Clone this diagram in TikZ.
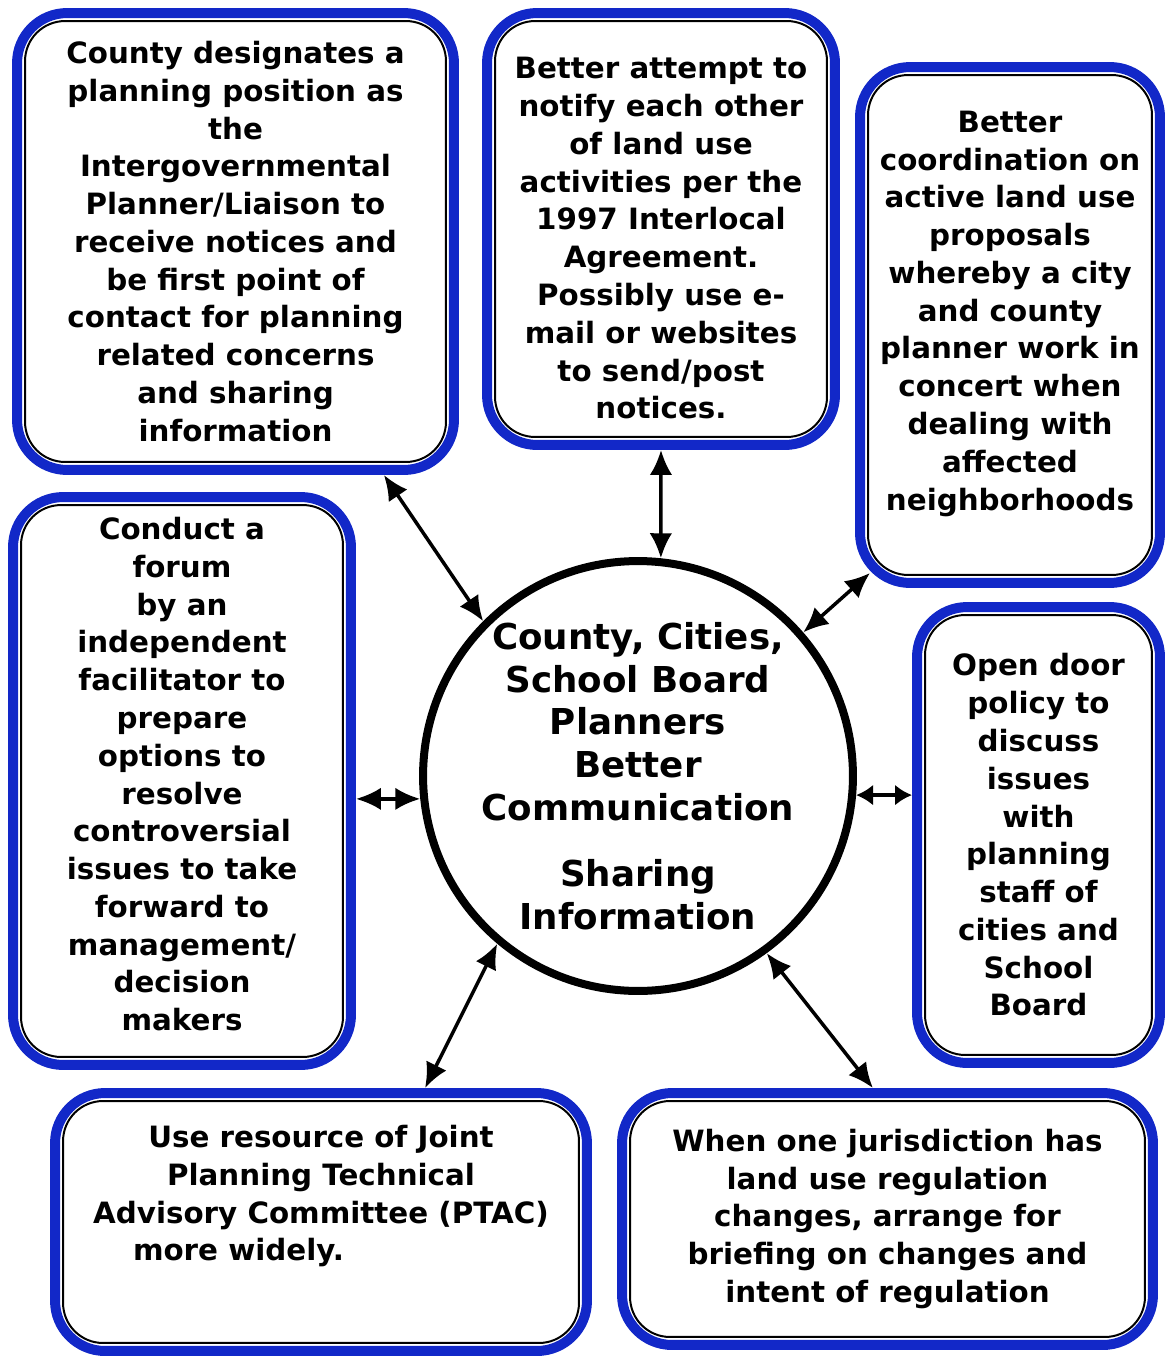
\documentclass[tikz,border=0pt]{standalone}
\usepackage{fontspec}
\setmainfont{DejaVu Sans}
\usetikzlibrary{positioning,fit,calc,arrows.meta}
\definecolor{frameblue}{RGB}{18,40,200}
\tikzstyle{idea_box} = [draw=black,
						line width=0.04cm,
						rounded corners=0.8cm,
						align=center,
						inner sep=0pt,
						font=\bfseries\fontsize{16.7}{21.5}\selectfont]
\tikzstyle{blue_frame} = [draw=frameblue,
						  line width=0.2cm,
						  rounded corners=1cm,
						  inner sep=0.14cm]
\tikzstyle{hub} = [circle,
				   draw=black,
				   line width=0.16cm,
				   minimum size=8.6cm,
				   inner sep=-5mm,
				   align=center,
				   font=\bfseries\fontsize{20.3}{24.4}\selectfont]
\tikzstyle{link} = [line width=0.07cm,
					{Latex[length=0.5cm,width=0.45cm]}-{Latex[length=0.5cm,width=0.45cm]}]
\tikzstyle{short_link} = [line width=0.07cm,
						  {Latex[length=0.34cm,width=0.42cm]}-{Latex[length=0.34cm,width=0.42cm]}]

\begin{document}
\begin{tikzpicture}[x=0.02cm, y=-0.02cm]
    \useasboundingbox (0,0) rectangle (1167,1359);

    % centre
    \node[hub] (c) at (638,776) {County, Cities,\\ School Board\\ Planners\\ Better\\ Communication\\[0.46cm] Sharing\\ Information};

    %%%%%%%%%%%%
    % TOP ROW  %
    %%%%%%%%%%%%
    \node[idea_box, minimum width=8.42cm, minimum height=8.82cm] (b1) at (235.5,241.5) {County designates a\\ planning position as\\ the\\ Intergovernmental\\ Planner/Liaison to\\ receive notices and\\ be first point of\\ contact for planning\\ related concerns\\ and sharing\\ information};
    \node[idea_box, minimum width=6.64cm, minimum height=8.32cm] (b2) at (661,229) {\rule{0pt}{0.8cm}Better attempt to\\ notify each other\\ of land use\\ activities per the\\ 1997 Interlocal\\ Agreement.\\ Possibly use e-\\ mail or websites\\ to send/post\\ notices.};
    \node[idea_box, minimum width=5.68cm, minimum height=10cm] (b3) at (1010,325) {Better\\ coordination on\\ active land use\\ proposals\\ whereby a city\\ and county\\ planner work in\\ concert when\\ dealing with\\ affected\\ neighborhoods\rule[-0.58cm]{0pt}{0.58cm}};

    %%%%%%%%%%%%
    % SIDES    %
    %%%%%%%%%%%%
    \node[idea_box, minimum width=6.44cm, minimum height=11.04cm] (b4) at (182,781) {Conduct a\\ forum\\ by an\\ independent\\ facilitator to\\ prepare\\ options to\\ resolve\\ controversial\\ issues to take\\ forward to\\ management/\\ decision\\ makers\rule[-0.28cm]{0pt}{0.28cm}};
    \node[idea_box, minimum width=4.54cm, minimum height=8.8cm] (b5) at (1038.5,835) {Open door\\ policy to\\ discuss\\ issues\\ with\\ planning\\ staff of\\ cities and\\ School\\ Board};

    %%%%%%%%%%%%
    % BOTTOM   %
    %%%%%%%%%%%%
    \node[idea_box, minimum width=10.32cm, minimum height=4.84cm] (b6) at (321,1222) {Use resource of Joint\\ Planning Technical\\ Advisory Committee (PTAC)\\ more widely.\hspace*{3.3cm}\null\\[0.4cm] ~};
    \node[idea_box, minimum width=10.3cm, minimum height=4.72cm] (b7) at (887.5,1219) {When one jurisdiction has\\ land use regulation\\ changes, arrange for\\ briefing on changes and\\ intent of regulation};

    % blue frames round the boxes
    \foreach \n in {1,...,7}
        \node[blue_frame, fit=(b\n)] (f\n) {};

    % links
    \draw[link] ($(f1.south west)!0.832!(f1.south east)$) -- (c.135.4);
    \draw[link] (f2.south) -- (c.84);
    \draw[link] (c.41.2) -- ($(f3.south west)+(15,-15)$);
    \draw[link] (c.186) -- (c.186 -| f4.east);
    \draw[short_link] (c.-5.5) -- (c.-5.5 -| f5.west);
    \draw[link] (c.230.3) -- ($(f6.north west)!0.692!(f6.north east)$);
    \draw[link] (c.306.1) -- ($(f7.north west)!0.473!(f7.north east)$);

\end{tikzpicture}
\end{document}
